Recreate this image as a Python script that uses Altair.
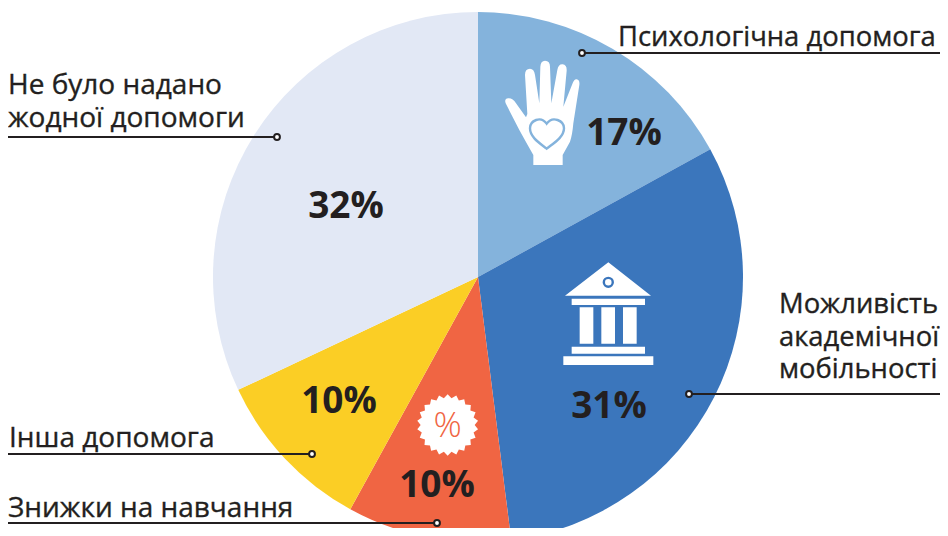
import altair as alt
import math
import pandas as pd

categories = ["Психологічна допомога", "Можливість академічної мобільності",
              "Знижки на навчання", "Інша допомога", "Не було надано жодної допомоги"]
values = [17, 31, 10, 10, 32]
colors = ["#84b3dc", "#3b76bc", "#f06543", "#fbce25", "#e2e8f5"]
order = [0, 1, 2, 3, 4]

OX, OY = 8, 8  # page margin
INK = "#231f20"
FONT = "Open Sans"
LABEL_SIZE = 27.4
LEFT_SIZE = 28
PCT_SIZE = 37


def px(v):
    return alt.value(v - OX)


def py(v):
    return alt.value(v - OY)


base = alt.Chart(pd.DataFrame({"cat": categories, "val": values, "ord": order, "col": colors}))
pie = base.mark_arc(outerRadius=265).encode(
    theta=alt.Theta("val:Q", stack=True, scale=alt.Scale(domain=[0, 100], range=[0, 2 * math.pi])),
    order=alt.Order("ord:Q"),
    color=alt.Color("col:N", scale=None, legend=None),
    x=px(478), y=py(277),
)

one = alt.Chart(pd.DataFrame({"a": [0]}))
layers = [pie]


def leader(x1, x2, y, dotx):
    layers.append(one.mark_rule(color=INK, strokeWidth=2).encode(x=px(x1), x2=px(x2), y=py(y)))
    layers.append(one.mark_point(filled=True, fill="white", stroke=INK, strokeWidth=2, opacity=1, size=34, shape="circle")
                  .encode(x=px(dotx), y=py(y)))


def text(s, x, y, size=LABEL_SIZE, weight=400, align="left", baseline="alphabetic", color=INK, sw=0.35):
    kw = dict(stroke=color, strokeWidth=sw) if sw else {}
    layers.append(one.mark_text(text=s, font=FONT, fontSize=size, fontWeight=weight, align=align,
                                baseline=baseline, color=color, **kw).encode(x=px(x), y=py(y)))


def icon(path, ox, oy, fill="white", stroke=None, sw=0):
    # path written in 3x-zoom units around origin (ox, oy): size 4/9 gives scale 1/3
    kw = dict(filled=True, fill=fill, opacity=1, shape=path, size=4 / 9)
    if stroke:
        kw.update(stroke=stroke, strokeWidth=sw)
    else:
        kw.update(strokeWidth=0)
    layers.append(one.mark_point(**kw).encode(x=px(ox), y=py(oy)))


# Icons
HAND = ("M130,375 L130,345 Q110,310 88,270 L47,190 Q42,176 55,175 Q68,174 78,190 L108,232 "
        "L112,222 L105,105 Q105,86 120,86 Q132,86 135,105 L148,190 L151,80 Q152,62 165,62 Q180,62 180,80 "
        "L184,190 L202,90 Q205,72 218,73 Q231,75 230,92 L220,200 L247,132 Q252,117 260,118 Q270,120 268,135 "
        "L250,250 Q247,285 240,305 L218,345 L218,375 Z")
HEART = ("M170,326 C150,310 120,292 120,265 C120,242 152,226 170,251 "
         "C188,226 222,242 222,265 C222,292 190,310 170,326 Z")
icon(HAND, 490, 40)
icon(HEART, 490, 40, fill="white", stroke="#84b3dc", sw=2.4)

BUILDING = ("M45,137 L175,37 L303,137 Z M65,146 L285,146 L285,165 L65,165 Z "
            "M89,172 L130,172 L130,281 L89,281 Z M154,172 L195,172 L195,281 L154,281 Z "
            "M219,172 L260,172 L260,281 L219,281 Z M65,290 L285,290 L285,311 L65,311 Z "
            "M40,319 L310,319 L310,345 L40,345 Z")
icon(BUILDING, 550, 250)
layers.append(one.mark_point(filled=True, fill="white", stroke="#3b76bc", strokeWidth=2.4, opacity=1,
                             size=80, shape="circle").encode(x=px(608.3), y=py(282.3)))

pts = []
for i in range(44):
    r = 92 if i % 2 == 0 else 81
    a = math.pi * i / 22
    pts.append(f"{173 + r * math.sin(a):.1f},{135 - r * math.cos(a):.1f}")
icon("M" + " L".join(pts) + " Z", 390, 380)
text("%", 447.7, 426, size=35, weight=300, align="center", baseline="middle", color="#f06543", sw=0)

# Leaders
leader(582, 940, 53, 582)
leader(8, 277, 137, 277)
leader(689, 940, 394, 689)
leader(8, 312, 454, 312)
leader(8, 437, 523, 437)

# Labels
text("Психологічна допомога", 618, 46)
text("Не було надано", 8, 94, size=LEFT_SIZE)
text("жодної допомоги", 8, 127, size=LEFT_SIZE)
text("Можливість", 779, 313)
text("академічної", 779, 346)
text("мобільності", 779, 378)
text("Інша допомога", 9, 447, size=LEFT_SIZE)
text("Знижки на навчання", 8, 517, size=LEFT_SIZE)

# Percentages
for s, x, y in [("17%", 624, 134), ("31%", 609, 407), ("10%", 339, 402), ("10%", 437, 486), ("32%", 346, 207)]:
    text(f"{s}", x, y, size=PCT_SIZE, weight=700, align="center", baseline="middle", sw=0)

chart = alt.layer(*layers).properties(
    width=932, height=520, padding=0,
    autosize=alt.AutoSizeParams(type="none"),
).configure_view(stroke=None, clip=False)

chart.save("out.html", embed_options={"renderer": "svg", "actions": False})
